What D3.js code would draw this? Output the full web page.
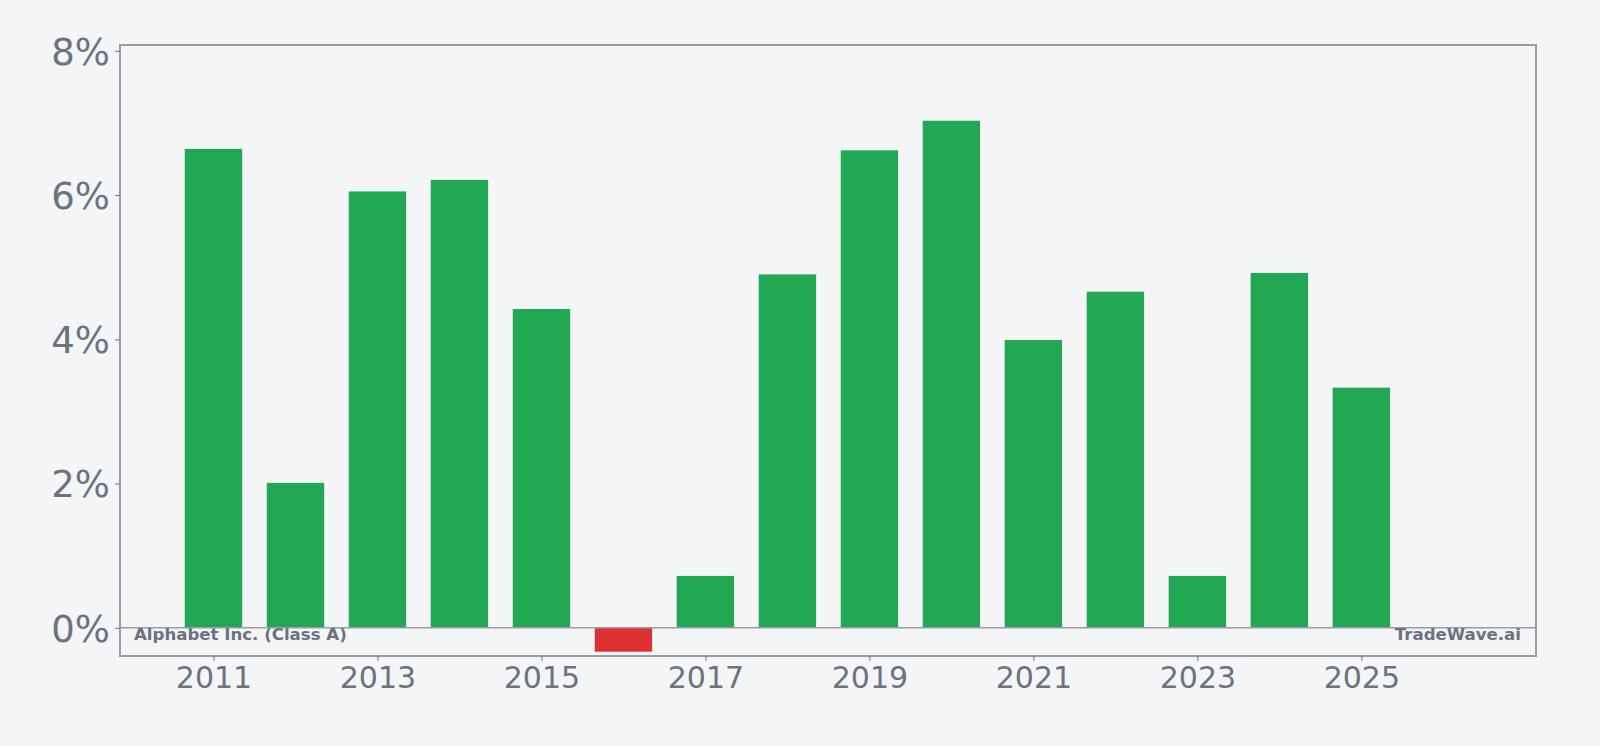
<!DOCTYPE html>
<html>
<head>
<meta charset="utf-8">
<script src="https://cdn.jsdelivr.net/npm/d3@7"></script>
<style>
  html, body { margin: 0; padding: 0; background: #f4f5f7; }
  svg { display: block; }
</style>
</head>
<body>
<div id="chart"></div>
<script>
// Yearly returns (%)
const years = [2011, 2012, 2013, 2014, 2015, 2016, 2017, 2018, 2019, 2020, 2021, 2022, 2023, 2024, 2025];
const values = [6.64, 2.01, 6.05, 6.21, 4.42, -0.33, 0.72, 4.90, 6.62, 7.03, 3.99, 4.66, 0.72, 4.92, 3.33];
const xTicks = [2011, 2013, 2015, 2017, 2019, 2021, 2023, 2025];
const yTicks = [0, 2, 4, 6, 8];

const width = 1600, height = 746;
const plotLeft = 120, plotRight = 1536, plotTop = 45, plotBottom = 656;

const svg = d3.select("#chart").append("svg")
  .attr("width", width)
  .attr("height", height);

svg.append("rect")
  .attr("width", width).attr("height", height)
  .attr("fill", "#f4f5f7");

const x = d3.scaleLinear().domain([2009.86, 2027.13]).range([plotLeft, plotRight]);
const y = d3.scaleLinear().domain([-0.39, 8.08]).range([plotBottom, plotTop]);

const barW = x(2011.35) - x(2010.65);

// bars
svg.append("g").selectAll("rect")
  .data(years.map((yr, i) => ({ yr, v: values[i] })))
  .join("rect")
  .attr("x", d => x(d.yr) - barW / 2)
  .attr("width", barW)
  .attr("y", d => y(Math.max(0, d.v)))
  .attr("height", d => Math.abs(y(d.v) - y(0)))
  .attr("fill", d => d.v >= 0 ? "#22a753" : "#dc3031");

// zero line
svg.append("line")
  .attr("x1", plotLeft).attr("x2", plotRight)
  .attr("y1", y(0)).attr("y2", y(0))
  .attr("stroke", "#9a9ca8")
  .attr("stroke-width", 1.5);

// frame
svg.append("rect")
  .attr("x", plotLeft).attr("y", plotTop)
  .attr("width", plotRight - plotLeft).attr("height", plotBottom - plotTop)
  .attr("fill", "none")
  .attr("stroke", "#9a9ca8")
  .attr("stroke-width", 2);

// axes
const yAxis = svg.append("g")
  .attr("transform", `translate(${plotLeft},0)`)
  .call(d3.axisLeft(y).tickValues(yTicks).tickFormat(d => d + "%").tickSize(5).tickPadding(5));
yAxis.select(".domain").remove();
yAxis.selectAll("line").attr("stroke", "#6b7280");
yAxis.selectAll("text")
  .attr("fill", "#6b7280")
  .attr("font-family", "DejaVu Sans")
  .attr("font-size", 37)
  .attr("dy", "0.36em");

const xAxis = svg.append("g")
  .attr("transform", `translate(0,${plotBottom})`)
  .call(d3.axisBottom(x).tickValues(xTicks).tickFormat(d3.format("d")).tickSize(5).tickPadding(6));
xAxis.select(".domain").remove();
xAxis.selectAll("line").attr("stroke", "#6b7280");
xAxis.selectAll("text")
  .attr("fill", "#6b7280")
  .attr("font-family", "DejaVu Sans")
  .attr("font-size", 30);

// watermarks
svg.append("text")
  .attr("x", 134).attr("y", 640)
  .attr("font-family", "DejaVu Sans")
  .attr("font-weight", "bold")
  .attr("font-size", 16.6)
  .attr("fill", "#6b7280")
  .text("Alphabet Inc. (Class A)");

svg.append("text")
  .attr("x", 1521).attr("y", 640)
  .attr("text-anchor", "end")
  .attr("font-family", "DejaVu Sans")
  .attr("font-weight", "bold")
  .attr("font-size", 16.6)
  .attr("fill", "#6b7280")
  .text("TradeWave.ai");
</script>
</body>
</html>
